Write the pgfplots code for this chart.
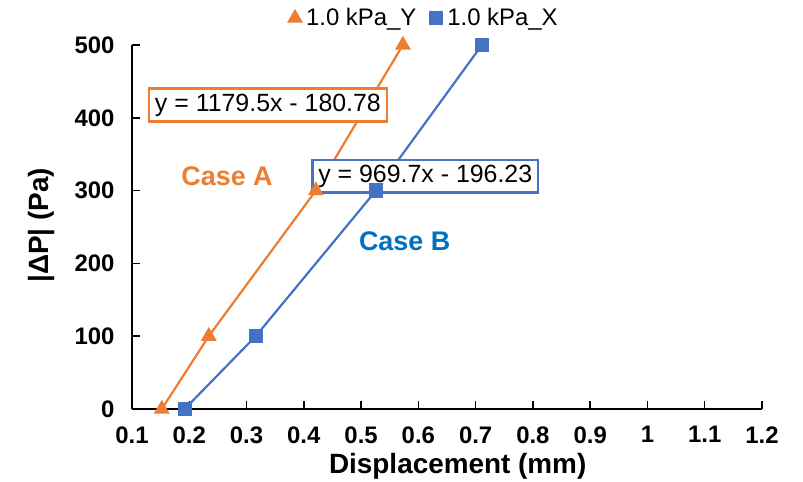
\documentclass[border=0pt]{standalone}
\usepackage{fontspec}
\setmainfont{Liberation Sans}
\usepackage{pgfplots}
\pgfplotsset{compat=1.18}
\definecolor{xlorange}{RGB}{237,125,49}
\definecolor{xlblue}{RGB}{68,114,196}
\definecolor{caseblue}{RGB}{0,112,192}

\begin{document}
\begin{tikzpicture}[x=1bp,y=1bp]
\begin{axis}[
  at={(0,0)}, anchor=south west,
  scale only axis, width=630bp, height=364bp,
  xmin=0.1, xmax=1.2, ymin=0, ymax=500,
  xtick={0.1,0.2,0.3,0.4,0.5,0.6,0.7,0.8,0.9,1,1.1,1.2},
  ytick={0,100,200,300,400,500},
  axis x line*=bottom, axis y line*=left,
  axis line style={black, line width=1.5bp},
  tick align=inside, major tick length=8bp,
  tick style={black, line width=1.5bp},
  /pgf/number format/assume math mode=true,
  ticklabel style={font=\bfseries\fontsize{24}{28}\selectfont},
  xticklabel style={yshift=-14bp},
  yticklabel style={xshift=-14bp},
  xlabel={Displacement (mm)}, ylabel={|ΔP| (Pa)},
  label style={font=\bfseries\fontsize{28}{33}\selectfont},
  xlabel style={at={(axis description cs:0.517,-0.157)}, anchor=center},
  ylabel style={at={(axis description cs:-0.143,0.505)}, anchor=center},
  legend columns=2,
  legend style={at={(0.464,1.074)}, anchor=center, draw=none, fill=none,
    font=\fontsize{24}{28}\selectfont, column sep=3bp,
    /tikz/every even column/.append style={column sep=12bp}},
  legend image code/.code={\draw[#1, only marks] plot coordinates {(0bp,0bp)};},
  clip=false,
]
\addplot[xlorange, line width=2.2bp, mark=triangle*, mark size=7bp,
  mark options={solid}] coordinates {
  (0.152,0)(0.234,100)(0.421,300)(0.573,500)};
\addlegendentry{1.0 kPa\_Y}
\addplot[xlblue, line width=2.2bp, mark=square*, mark size=6bp] coordinates {
  (0.192,0)(0.316,100)(0.526,300)(0.711,500)};
\addlegendentry{1.0 kPa\_X}

\node[draw=xlorange, line width=2.5bp, fill=white, inner xsep=6bp, inner ysep=5bp,
  font=\fontsize{25}{29}\selectfont] at (axis cs:0.3373,417.6) {y = 1179.5x - 180.78};
\node[draw=xlblue, line width=2.5bp, fill=white, inner xsep=6bp, inner ysep=5bp,
  font=\fontsize{25}{29}\selectfont] at (axis cs:0.612,320) {y = 969.7x - 196.23};
\node[xlorange, font=\bfseries\fontsize{27}{31}\selectfont] at (axis cs:0.266,320) {Case A};
\node[caseblue, font=\bfseries\fontsize{27}{31}\selectfont] at (axis cs:0.576,230.8) {Case B};
\end{axis}
\pgfresetboundingbox
\path (-132bp,-73bp) rectangle (671bp,409bp);
\end{tikzpicture}
\end{document}
